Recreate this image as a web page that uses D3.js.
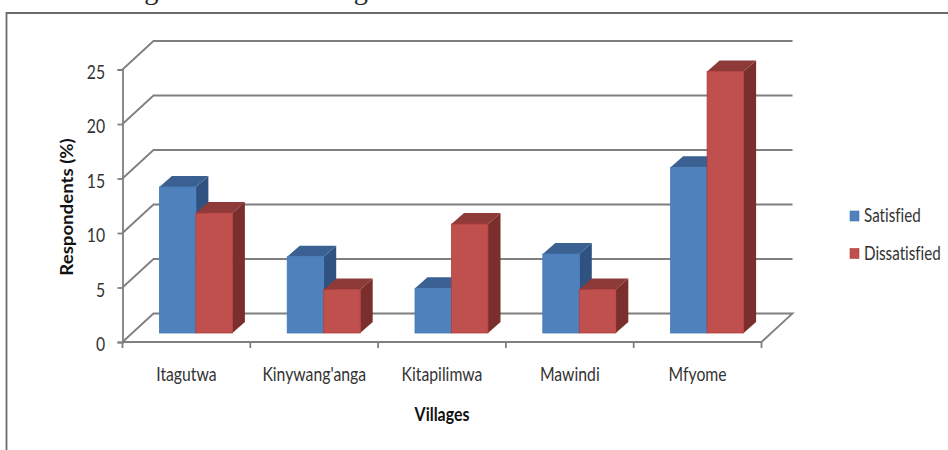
<!DOCTYPE html>
<html><head><meta charset="utf-8">
<script src="https://cdnjs.cloudflare.com/ajax/libs/d3/7.8.5/d3.min.js"></script>
<style>html,body{margin:0;padding:0;background:#fff}svg{display:block}text{font-variant-ligatures:none}</style>
</head><body><svg id="c" width="948" height="450"></svg>
<script>
const categories = ["Itagutwa","Kinywang'anga","Kitapilimwa","Mawindi","Mfyome"];
const satisfied = [13.4,7,4.1,7.25,15.2];
const dissatisfied = [11,4,10,4,24];
const yTicks = [0,5,10,15,20,25];
const seriesNames = ["Satisfied","Dissatisfied"];
const faceColors = ["#4f81bd","#c0504d"];
const topColors = ["#3a6191","#8e3a38"];
const sideColors = ["#2f5280","#7a2f2d"];
const edgeColors = ["#447ab8","#b23c3a"];

const svg = d3.select("#c");
const font = "Lato, Carlito, sans-serif";
const gray = "#7f7f7f";
const x = d3.scaleBand().domain(categories).range([122.5,761.5]);
const y = d3.scaleLinear().domain([0,25]).range([342,69.5]);
const wallDx = 31, wallDy = 28.5;
const barDx = 9.5, barDy = 9;
const depthDx = 12.5, depthDy = 11;
const barW = 36.5;

function label(tx,ty,s,size,opts={}){
  const sx = opts.sx ?? 0.83;
  return svg.append("text")
    .attr("transform",`translate(${tx},${ty})${opts.rotate?` rotate(${opts.rotate})`:""} scale(${sx},1)`)
    .attr("text-anchor",opts.anchor||"middle")
    .attr("font-family",opts.family||font)
    .attr("font-size",size)
    .attr("font-weight",opts.weight||400)
    .attr("fill",opts.fill||"#333")
    .text(s);
}

// caption fragment clipped by the page top, as in the reference
label(5,-1,"studied villages as shown in Figure 3.",27,{anchor:"start",family:"'Liberation Serif',serif",sx:1.05,fill:"#222"});

// outer frame
svg.append("path").attr("d","M6.5,450V13H948").attr("fill","none").attr("stroke","#6b6b6b").attr("stroke-width",1.8);

// walls and gridlines
yTicks.forEach(t=>{
  const py = y(t);
  const line = t===0
    ? `M${x.range()[0]},${py}L${x.range()[0]+wallDx},${py-wallDy}L${x.range()[1]+wallDx},${py-wallDy}L${x.range()[1]},${py}`
    : `M${x.range()[0]},${py}L${x.range()[0]+wallDx},${py-wallDy}L${x.range()[1]+wallDx},${py-wallDy}`;
  svg.append("path").attr("d",line).attr("fill","none").attr("stroke",gray).attr("stroke-width",1.8);
});

// axes
const yAxis = d3.axisLeft(y).tickValues(yTicks).tickSize(5).tickFormat(d3.format("d"));
const gy = svg.append("g").attr("transform",`translate(${x.range()[0]},0)`).call(yAxis);
gy.select(".domain").attr("stroke",gray).attr("stroke-width",1.8);
gy.selectAll(".tick line").attr("stroke",gray).attr("stroke-width",1.8);
gy.selectAll(".tick text").attr("dy","0.36em").attr("font-family",font).attr("font-size",19).attr("fill","#333")
  .attr("transform","translate(0,2) scale(0.83,1)").attr("x",-21);

const base = svg.append("g");
base.append("path").attr("d",`M${x.range()[0]},${y(0)}H${x.range()[1]}`).attr("stroke",gray).attr("stroke-width",1.8);
const edges = categories.map(c=>x(c)).concat(x.range()[1]);
base.selectAll("path.t").data(edges).join("path").attr("class","t")
  .attr("d",d=>`M${d},${y(0)}v6`).attr("stroke",gray).attr("stroke-width",1.8);

// bars
function bar(cat,i,val){
  const left = x(cat)+x.bandwidth()/2 + barDx + (i===0?-barW:0);
  const bottom = y(0)-barDy;
  const h = y(0)-y(val);
  const top = bottom-h;
  const g = svg.append("g");
  g.append("path").attr("fill",sideColors[i])
    .attr("d",`M${left+barW},${top}l${depthDx},${-depthDy}V${bottom-depthDy}l${-depthDx},${depthDy}Z`);
  g.append("path").attr("fill",topColors[i])
    .attr("d",`M${left},${top}l${depthDx},${-depthDy}h${barW}l${-depthDx},${depthDy}Z`);
  g.append("rect").attr("x",left).attr("y",top).attr("width",barW).attr("height",h)
    .attr("fill",faceColors[i]).attr("stroke",edgeColors[i]).attr("stroke-width",0.8);
}
categories.forEach((c,k)=>{ bar(c,0,satisfied[k]); bar(c,1,dissatisfied[k]); });

// category labels
categories.forEach(c=>label(x(c)+x.bandwidth()/2,381,c,19));

// axis titles
label(442,421,"Villages",18.5,{weight:700,fill:"#111",sx:0.86});
label(73,207,"Respondents (%)",16.5,{weight:700,rotate:-90,sx:1.13,fill:"#111"});

// legend
seriesNames.forEach((s,i)=>{
  const ly = 216+i*37.5;
  svg.append("rect").attr("x",850).attr("y",ly-5).attr("width",9).attr("height",10)
    .attr("fill",faceColors[i]).attr("stroke",edgeColors[i]).attr("stroke-width",0.6);
  label(864,ly+6,s,19,{anchor:"start",sx:0.8});
});
</script></body></html>
